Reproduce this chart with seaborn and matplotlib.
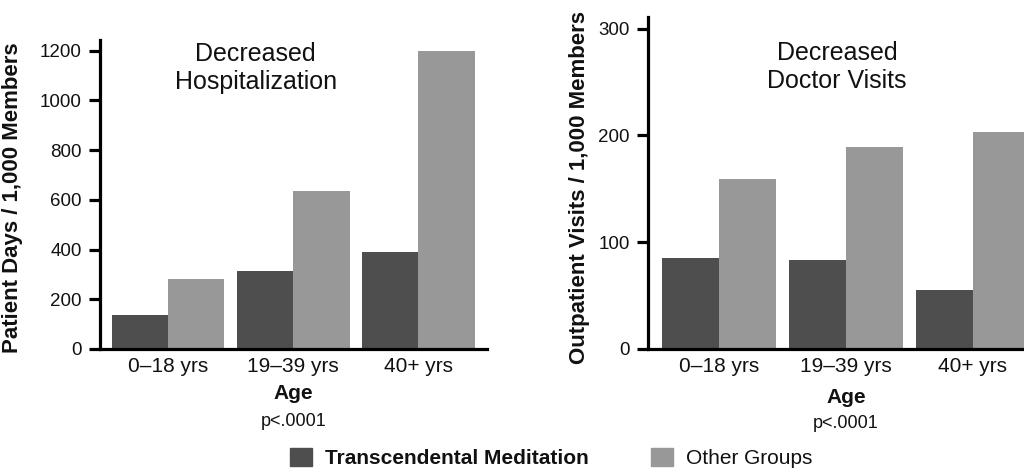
import pandas as pd
import matplotlib.pyplot as plt
import seaborn as sns
from matplotlib.patches import Patch

ages = ["0–18 yrs", "19–39 yrs", "40+ yrs"]
groups = ["Transcendental Meditation", "Other Groups"]
hosp_tm = [135, 312, 390]
hosp_other = [280, 635, 1200]
visits_tm = [85, 83, 55]
visits_other = [159, 189, 203]

sns.set_style("ticks")
plt.rcParams['font.family'] = ['Liberation Sans', 'DejaVu Sans']
plt.rcParams['text.color'] = '#111111'
plt.rcParams['xtick.color'] = '#111111'
plt.rcParams['ytick.color'] = '#111111'

palette = {"Transcendental Meditation": "#4e4e4e", "Other Groups": "#989898"}


def make_frame(tm, other):
    return pd.DataFrame({
        "Age": ages * 2,
        "Group": [groups[0]] * 3 + [groups[1]] * 3,
        "Value": tm + other,
    })


hosp = make_frame(hosp_tm, hosp_other)
visits = make_frame(visits_tm, visits_other)

fig = plt.figure(figsize=(10.24, 4.68), dpi=100)
ax1 = fig.add_axes([0.0977, 0.2543, 0.378, 0.660])
ax2 = fig.add_axes([0.6328, 0.2543, 0.3916, 0.7094])

for ax, df in [(ax1, hosp), (ax2, visits)]:
    sns.barplot(data=df, x="Age", y="Value", hue="Group", order=ages,
                hue_order=groups, palette=palette, width=0.9, gap=0,
                linewidth=0, saturation=1, legend=False, ax=ax)
    sns.despine(ax=ax)
    ax.spines['left'].set_linewidth(2.3)
    ax.spines['bottom'].set_linewidth(2.3)
    ax.spines['left'].set_color('black')
    ax.spines['bottom'].set_color('black')
    ax.tick_params(axis='y', length=8, width=2.3, pad=5, labelsize=13.5, color='black')
    ax.tick_params(axis='x', length=0, pad=6, labelsize=15)
    ax.set_xlabel("")
    ax.set_ylabel("")
    tr = ax.get_xaxis_transform()
    ax.text(1, -0.145, "Age", transform=tr, ha='center', va='center',
            fontsize=15, fontweight='bold')

# left panel
ax1.set_xlim(-0.544, 2.55)
ax1.set_ylim(0, 1243)
ax1.set_yticks([0, 200, 400, 600, 800, 1000, 1200])
ax1.text(0.70, 0.91, "Decreased\nHospitalization", transform=ax1.get_xaxis_transform(),
         ha='center', va='center', fontsize=18, linespacing=1.2)
ax1.text(-0.225, 0.49, "Patient Days / 1,000 Members", transform=ax1.transAxes,
         rotation=90, ha='center', va='center', fontsize=16, fontweight='bold')
ax1.text(1, -0.236, "p<.0001", transform=ax1.get_xaxis_transform(),
         ha='center', va='center', fontsize=13)

# right panel
ax2.set_xlim(-0.56, 2.6)
ax2.set_ylim(0, 311)
ax2.set_yticks([0, 100, 200, 300])
ax2.text(0.93, 0.85, "Decreased\nDoctor Visits", transform=ax2.get_xaxis_transform(),
         ha='center', va='center', fontsize=18, linespacing=1.2)
ax2.text(-0.17, 0.486, "Outpatient Visits / 1,000 Members", transform=ax2.transAxes,
         rotation=90, ha='center', va='center', fontsize=16, fontweight='bold')
ax2.text(1, -0.223, "p<.0001", transform=ax2.get_xaxis_transform(),
         ha='center', va='center', fontsize=13)

handles = [Patch(color=palette[g]) for g in groups]
leg = fig.legend(handles, groups, loc='center left', bbox_to_anchor=(0.283, 0.021),
                 ncol=2, frameon=False, fontsize=15, handlelength=1.06,
                 handleheight=0.96, handletextpad=0.63, columnspacing=3.0,
                 borderpad=0, borderaxespad=0)
leg.get_texts()[0].set_fontweight('bold')

fig.savefig("out.png", dpi=100)
